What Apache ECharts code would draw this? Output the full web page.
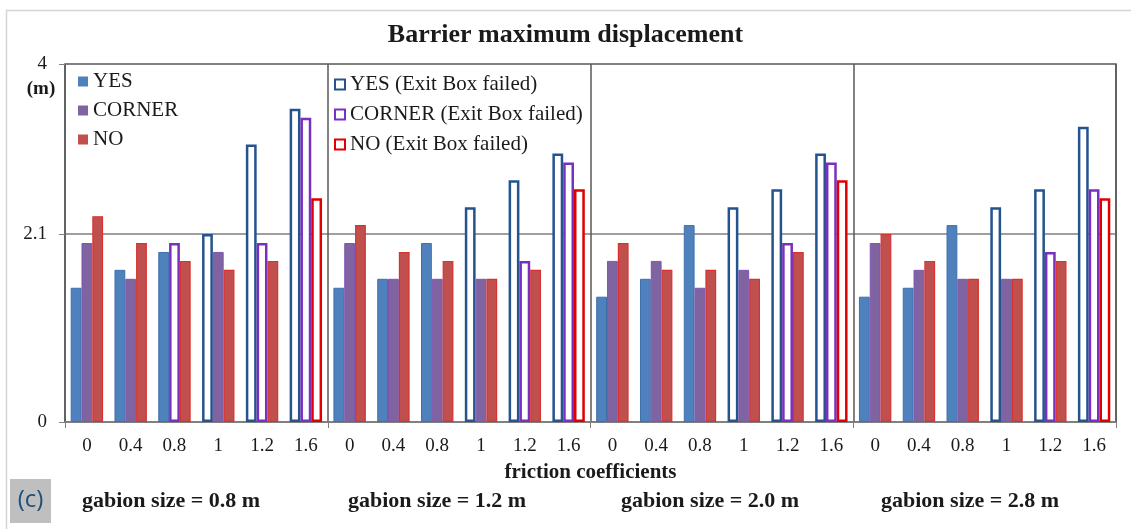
<!DOCTYPE html>
<html><head><meta charset="utf-8">
<script src="https://cdn.jsdelivr.net/npm/echarts@6/dist/echarts.min.js"></script>
<style>html,body{margin:0;padding:0;background:#fff}#c{width:1131px;height:529px}</style>
</head><body><div id="c"></div>
<script>
// ---- data ----
const frictionLabels = ['0', '0.4', '0.8', '1', '1.2', '1.6'];
const gabionSizes = ['gabion size = 0.8 m', 'gabion size = 1.2 m', 'gabion size = 2.0 m', 'gabion size = 2.8 m'];
const yTickInterval = 2.1;
const yMax = 4;

const yesValues    = [1.5, 1.7, 1.9, 2.1, 3.1, 3.5,  1.5, 1.6, 2.0, 2.4, 2.7, 3.0,  1.4, 1.6, 2.2, 2.4, 2.6, 3.0,  1.4, 1.5, 2.2, 2.4, 2.6, 3.3];
const cornerValues = [2.0, 1.6, 2.0, 1.9, 2.0, 3.4,  2.0, 1.6, 1.6, 1.6, 1.8, 2.9,  1.8, 1.8, 1.5, 1.7, 2.0, 2.9,  2.0, 1.7, 1.6, 1.6, 1.9, 2.6];
const noValues     = [2.3, 2.0, 1.8, 1.7, 1.8, 2.5,  2.2, 1.9, 1.8, 1.6, 1.7, 2.6,  2.0, 1.7, 1.7, 1.6, 1.9, 2.7,  2.1, 1.8, 1.6, 1.6, 1.8, 2.5];

// 1 = Exit Box failed
const yesFailed    = [0,0,0,1,1,1,  0,0,0,1,1,1,  0,0,0,1,1,1,  0,0,0,1,1,1];
const cornerFailed = [0,0,1,0,1,1,  0,0,0,0,1,1,  0,0,0,0,1,1,  0,0,0,0,1,1];
const noFailed     = [0,0,0,0,0,1,  0,0,0,0,0,1,  0,0,0,0,0,1,  0,0,0,0,0,1];

// ---- build ----
const categories = [];
gabionSizes.forEach(() => frictionLabels.forEach(f => categories.push(f)));
const pick = (vals, flags, want) => vals.map((v, i) => (flags[i] === want ? v : null));

const SERIF = '"Liberation Serif","Times New Roman",serif';
const TXT = '#1a1a1a';
const perPanel = frictionLabels.length;

function bar(name, stack, data, fill, border, bw) {
  return {
    name, type: 'bar', stack, data,
    barGap: '0%', barCategoryGap: '26%',
    itemStyle: { color: fill, borderColor: border, borderWidth: bw },
    emphasis: { disabled: true }
  };
}

const panelLeft = [82, 348, 621, 881];

const chart = echarts.init(document.getElementById('c'), null, { renderer: 'canvas' });
chart.setOption({
  animation: false,
  backgroundColor: '#fff',
  title: {
    text: 'Barrier maximum displacement',
    left: 'center', top: 17,
    textStyle: { fontFamily: SERIF, fontWeight: 'bold', fontSize: 26, color: TXT }
  },
  legend: [
    {
      data: ['YES', 'CORNER', 'NO'],
      orient: 'vertical', left: 78, top: 71, padding: 0,
      icon: 'rect',
      itemWidth: 10, itemHeight: 10, itemGap: 8,
      itemStyle: { borderWidth: 0 },
      textStyle: { fontFamily: SERIF, fontSize: 21, color: TXT }
    },
    {
      data: ['YES (Exit Box failed)', 'CORNER (Exit Box failed)', 'NO (Exit Box failed)'],
      orient: 'vertical', left: 334, top: 74, padding: 0,
      icon: 'rect',
      itemWidth: 10, itemHeight: 10, itemGap: 9,
      textStyle: { fontFamily: SERIF, fontSize: 21, color: TXT }
    }
  ],
  grid: {
    left: 65, right: 15, top: 64, bottom: 107,
    show: true, borderColor: '#595959', borderWidth: 1.5
  },
  xAxis: {
    type: 'category',
    data: categories,
    boundaryGap: true,
    axisLine: { lineStyle: { color: '#808080', width: 1.5 } },
    axisTick: { show: true, length: 6, interval: (i) => i % perPanel === 0, lineStyle: { color: '#808080' } },
    splitLine: { show: true, interval: (i) => i % perPanel === 0, lineStyle: { color: '#595959', width: 1.5 } },
    axisLabel: { interval: 0, margin: 15, fontFamily: SERIF, fontSize: 19, color: TXT },
    name: 'friction coefficients',
    nameLocation: 'middle', nameGap: 40,
    nameTextStyle: { fontFamily: SERIF, fontWeight: 'bold', fontSize: 21, color: TXT }
  },
  yAxis: {
    type: 'value', min: 0, max: yMax, interval: yTickInterval,
    axisLine: { show: false },
    axisTick: { show: true, length: 6, lineStyle: { color: '#808080' } },
    splitLine: { show: true, lineStyle: { color: '#7f7f7f', width: 1.5 } },
    axisLabel: { margin: 18, fontFamily: SERIF, fontSize: 19, color: TXT, formatter: (v) => String(Math.round(v * 10) / 10) }
  },
  series: [
    bar('YES', 'y', pick(yesValues, yesFailed, 0), '#4F81BD', '#3F6FAE', 1),
    bar('YES (Exit Box failed)', 'y', pick(yesValues, yesFailed, 1), '#ffffff', '#24538E', 2.5),
    bar('CORNER', 'c', pick(cornerValues, cornerFailed, 0), '#8064A2', '#7F55B0', 1),
    bar('CORNER (Exit Box failed)', 'c', pick(cornerValues, cornerFailed, 1), '#ffffff', '#7B2FBE', 2.5),
    bar('NO', 'n', pick(noValues, noFailed, 0), '#C0504D', '#D8322F', 1.2),
    bar('NO (Exit Box failed)', 'n', pick(noValues, noFailed, 1), '#ffffff', '#E00000', 2.5)
  ],
  graphic: [
    { type: 'rect', silent: true, shape: { x: 6.5, y: 10.5, width: 1200, height: 600 },
      style: { fill: 'none', stroke: '#d4d4d4', lineWidth: 1.5 } },
    { type: 'text', silent: true, style: { text: '(m)', x: 41, y: 89, align: 'center', verticalAlign: 'middle',
      font: 'bold 19px ' + SERIF, fill: TXT } },
    { type: 'rect', silent: true, shape: { x: 10, y: 479, width: 41, height: 44 }, style: { fill: '#BFBFBF' } },
    { type: 'text', silent: true, style: { text: '(c)', x: 30.5, y: 500, align: 'center', verticalAlign: 'middle',
      font: '24px "Open Sans", "Liberation Sans", sans-serif', fill: '#1F4E79' } }
  ].concat(gabionSizes.map((g, i) => ({
    type: 'text', silent: true,
    style: { text: g, x: panelLeft[i], y: 501, align: 'left', verticalAlign: 'middle',
      font: 'bold 22px ' + SERIF, fill: TXT }
  })))
});
</script>
</body></html>
